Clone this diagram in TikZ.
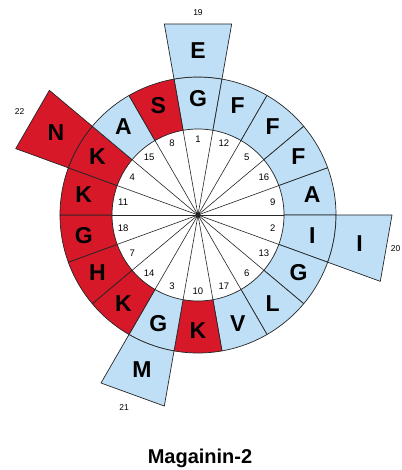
\documentclass[tikz,border=0pt]{standalone}
\usepackage{fontspec}
\setmainfont{Liberation Sans}
\definecolor{wred}{RGB}{214,24,40}
\definecolor{wblue}{RGB}{190,223,245}
\begin{document}
\begin{tikzpicture}[x=1pt,y=1pt,line join=round,
  seg/.style={draw=black!85,line width=0.7pt},
  spoke/.style={draw=black!85,line width=0.6pt},
  res/.style={font=\fontsize{23}{23}\selectfont\bfseries,inner sep=0pt},
  num/.style={font=\fontsize{9.5}{10}\selectfont,inner sep=0pt},
  outnum/.style={font=\fontsize{8.5}{9}\selectfont,inner sep=0pt},
  titlestyle/.style={font=\fontsize{20}{20}\selectfont\bfseries,anchor=base}]
\useasboundingbox (-198,-255) rectangle (203,215);
\def\ri{86}
\def\ro{138}
\def\re{194}
% inner disc
\fill[white] (0,0) circle[radius=\ri];
% ring sectors
\foreach \n/\l/\a/\c in {1/G/90/wblue,12/F/70/wblue,5/F/50/wblue,16/F/30/wblue,9/A/10/wblue,
  2/I/-10/wblue,13/G/-30/wblue,6/L/-50/wblue,17/V/-70/wblue,10/K/-90/wred,
  3/G/-110/wblue,14/K/-130/wred,7/H/-150/wred,18/G/-170/wred,11/K/170/wred,
  4/K/150/wred,15/A/130/wblue,8/S/110/wred}{
  \filldraw[seg,fill=\c] (\a-10:\ri) arc[start angle=\a-10,end angle=\a+10,radius=\ri]
    -- (\a+10:\ro) arc[start angle=\a+10,end angle=\a-10,radius=\ro] -- cycle;
  \node[res] (r\n) at (\a:116) {\l};
  \node[num] (n\n) at (\a:76) {\n};
}
% extension boxes
\foreach \n/\l/\a/\c in {19/E/90/wblue,20/I/-10/wblue,21/M/-110/wblue,22/N/150/wred}{
  \filldraw[seg,fill=\c] (\a-10:\ro) -- (\a-10:\re) -- (\a+10:\re) -- (\a+10:\ro)
    arc[start angle=\a+10,end angle=\a-10,radius=\ro] -- cycle;
  \node[res] (r\n) at (\a:164) {\l};
}
\node[outnum] (n19) at (90:202) {19};
\node[outnum,anchor=east] (n20) at (202.5,-34) {20};
\node[outnum] (n21) at (-111:206) {21};
\node[outnum] (n22) at (150:206) {22};
% spokes
\node[circle,fill=black,inner sep=0pt,minimum size=5pt] (c) at (0,0) {};
\foreach \k in {0,...,17}{
  \coordinate (s\k) at (\k*20:\ri);
  \draw[spoke] (c.center) -- (s\k);
}
\node[titlestyle] (title) at (2,-248) {Magainin-2};
\end{tikzpicture}
\end{document}
